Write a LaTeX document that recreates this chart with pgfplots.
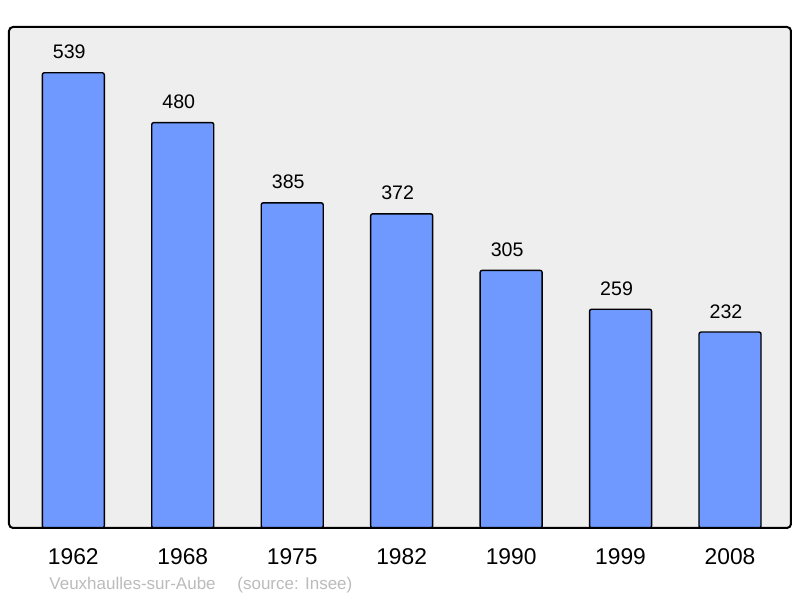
\documentclass[border=0pt]{standalone}
\usepackage{pgfplots}
\pgfplotsset{compat=1.18}
\usepackage{fontspec}
\setmainfont{Liberation Sans}
\definecolor{barblue}{RGB}{112,153,255}
\definecolor{bggray}{RGB}{238,238,238}
\definecolor{srcgray}{RGB}{187,187,187}
\begin{document}
\begin{tikzpicture}
\path[use as bounding box] (0,0) rectangle (400pt,299pt);
\begin{axis}[
  at={(4.5pt,35pt)}, anchor=south west,
  scale only axis, width=391pt, height=250.5pt,
  xmin=-0.5875, xmax=6.557, ymin=0, ymax=593.2,
  axis background/.style={fill=bggray},
  axis line style={draw=none},
  ytick=\empty,
  xtick={0,1,2,3,4,5,6},
  xticklabels={1962,1968,1975,1982,1990,1999,2008},
  major tick length=0pt,
  xticklabel style={anchor=base, yshift=-18.5pt, font=\fontsize{11.4}{13}\selectfont},
  /pgf/number format/assume math mode=true,
  ybar, bar width=31pt,
  nodes near coords,
  every node near coord/.append style={anchor=base, yshift=7pt, xshift=-2pt, font=\fontsize{9.8}{12}\selectfont, black},
  clip=false,
]
\addplot[fill=barblue, draw=black, line width=0.7pt, rounded corners=1pt] coordinates {
  (0,539) (1,480) (2,385) (3,372) (4,305) (5,259) (6,232)
};
\draw[black, line width=1pt, rounded corners=2pt] (rel axis cs:0,0) rectangle (rel axis cs:1,1);
\end{axis}
\node[anchor=base west, inner sep=0pt, text=srcgray, font=\fontsize{8.5}{10}\selectfont] at (24.5pt,4pt) {Veuxhaulles-sur-Aube};
\node[anchor=base west, inner sep=0pt, text=srcgray, font=\fontsize{8.5}{10}\selectfont] at (118.5pt,4pt) {(source: Insee)};
\end{tikzpicture}
\end{document}
